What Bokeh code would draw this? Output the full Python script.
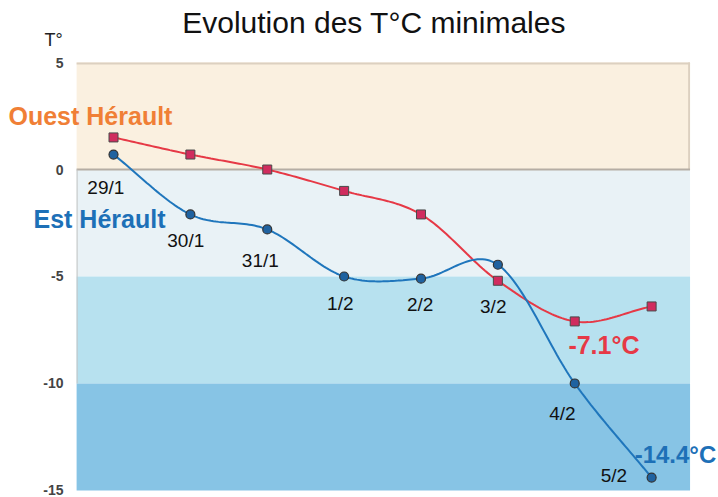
import numpy as np
from bokeh.plotting import figure
from bokeh.models import Range1d, BoxAnnotation, Label
from bokeh.embed import file_html
from bokeh.resources import INLINE

# ---- data ----
dates = ["29/1", "30/1", "31/1", "1/2", "2/2", "3/2", "4/2", "5/2"]
ouest = [1.5, 0.7, 0.0, -1.0, -2.1, -5.2, -7.1, -6.4]
est = [0.7, -2.1, -2.8, -5.0, -5.1, -4.45, -10.0, -14.4]
y_ticks = [5, 0, -5, -10, -15]
bands = [(0, 5, "#FAF0E0"), (-5, 0, "#E9F2F6"), (-10, -5, "#B7E1EF"), (-15, -10, "#87C4E5")]
title_text = "Evolution des T°C minimales"
ouest_name = "Ouest Hérault"
est_name = "Est Hérault"
ouest_min = "-7.1°C"
est_min = "-14.4°C"

# ---- label placement (data units) ----
date_lab_x = [-0.10, 0.94, 1.91, 2.95, 3.99, 4.94, 5.84, 6.51]
date_lab_y = [-0.84, -3.32, -4.25, -6.26, -6.31, -6.40, -11.40, -14.30]

FONT = "Liberation Sans"
X0, X1 = -0.48, 7.5


def catmull_rom(xs, ys, n=30):
    xs = np.asarray(xs, float)
    ys = np.asarray(ys, float)
    px = np.concatenate([[2 * xs[0] - xs[1]], xs, [2 * xs[-1] - xs[-2]]])
    py = np.concatenate([[2 * ys[0] - ys[1]], ys, [2 * ys[-1] - ys[-2]]])
    outx, outy = [], []
    for i in range(1, len(px) - 2):
        t = np.linspace(0, 1, n, endpoint=(i == len(px) - 3))
        for arr, out in ((px, outx), (py, outy)):
            p0, p1, p2, p3 = arr[i - 1], arr[i], arr[i + 1], arr[i + 2]
            out.extend(0.5 * ((2 * p1) + (-p0 + p2) * t
                              + (2 * p0 - 5 * p1 + 4 * p2 - p3) * t ** 2
                              + (-p0 + 3 * p1 - 3 * p2 + p3) * t ** 3))
    return outx, outy


xi = list(range(len(dates)))

p = figure(width=718, height=497, output_backend="svg", toolbar_location=None,
           x_range=Range1d(-1.47, 7.87), y_range=Range1d(-15.33, 7.90),
           min_border_left=0, min_border_right=0, min_border_top=0,
           min_border_bottom=0)
p.outline_line_color = None
p.background_fill_color = "white"
p.border_fill_color = "white"
p.grid.visible = False
p.axis.visible = False

# bands
for lo, hi, col in bands:
    p.add_layout(BoxAnnotation(left=X0, right=X1, bottom=lo, top=hi,
                               fill_color=col, fill_alpha=1, line_color=None,
                               level="underlay"))
# band borders
p.add_layout(BoxAnnotation(left=X0, right=X1, bottom=y_ticks[0] - 0.09, top=y_ticks[0],
                           fill_color="#DCD0C0", fill_alpha=1, line_color=None,
                           level="underlay"))
p.add_layout(BoxAnnotation(left=X1 - 0.025, right=X1, bottom=y_ticks[1], top=y_ticks[0],
                           fill_color="#DCD0C0", fill_alpha=1, line_color=None,
                           level="underlay"))
p.add_layout(BoxAnnotation(left=X0, right=X1, bottom=y_ticks[1] - 0.05, top=y_ticks[1] + 0.05,
                           fill_color="#B5ADA4", fill_alpha=1, line_color=None,
                           level="underlay"))
p.add_layout(BoxAnnotation(left=X0, right=X0 + 0.013, bottom=y_ticks[3], top=y_ticks[1],
                           fill_color="#C4C4C4", fill_alpha=1, line_color=None,
                           level="underlay"))

# y tick labels
for t in y_ticks:
    p.add_layout(Label(x=-0.65, y=t, text=str(t), text_font=FONT,
                       text_font_style="bold", text_font_size="14px",
                       text_color="#444444", text_align="right",
                       text_baseline="middle"))

# curves
ox, oy = catmull_rom(xi, ouest)
ex, ey = catmull_rom(xi, est)
p.line(ox, oy, line_color="#E63946", line_width=2)
p.line(ex, ey, line_color="#1F76BC", line_width=2)
p.scatter(xi, ouest, marker="square", size=9, fill_color="#D02C5E",
          line_color="#4A4A4A", line_width=1)
p.scatter(xi, est, marker="circle", size=9, fill_color="#1F62A0",
          line_color="#333333", line_width=1.2)

# date labels
for i, d in enumerate(dates):
    p.add_layout(Label(x=date_lab_x[i], y=date_lab_y[i], text=d,
                       text_font=FONT, text_font_size="19px",
                       text_color="#111111", text_align="center",
                       text_baseline="middle"))

# texts
p.add_layout(Label(x=3.39, y=6.87, text=title_text, text_font=FONT,
                   text_font_size="30px", text_color="#111111",
                   text_align="center", text_baseline="middle"))
p.add_layout(Label(x=-0.78, y=6.07, text="T°", text_font=FONT,
                   text_font_size="18px", text_color="#222222",
                   text_align="center", text_baseline="middle"))
p.add_layout(Label(x=-1.366, y=2.52, text=ouest_name, text_font=FONT,
                   text_font_style="bold", text_font_size="25px",
                   text_color="#F07F36", text_align="left",
                   text_baseline="middle"))
p.add_layout(Label(x=-1.041, y=-2.29, text=est_name, text_font=FONT,
                   text_font_style="bold", text_font_size="25px",
                   text_color="#1D70B7", text_align="left",
                   text_baseline="middle"))
p.add_layout(Label(x=6.38, y=-8.22, text=ouest_min, text_font=FONT,
                   text_font_style="bold", text_font_size="25px",
                   text_color="#E63946", text_align="center",
                   text_baseline="middle"))
p.add_layout(Label(x=7.31, y=-13.32, text=est_min, text_font=FONT,
                   text_font_style="bold", text_font_size="24px",
                   text_color="#1D70B7", text_align="center",
                   text_baseline="middle"))

open("out.html", "w").write(file_html(p, INLINE))
